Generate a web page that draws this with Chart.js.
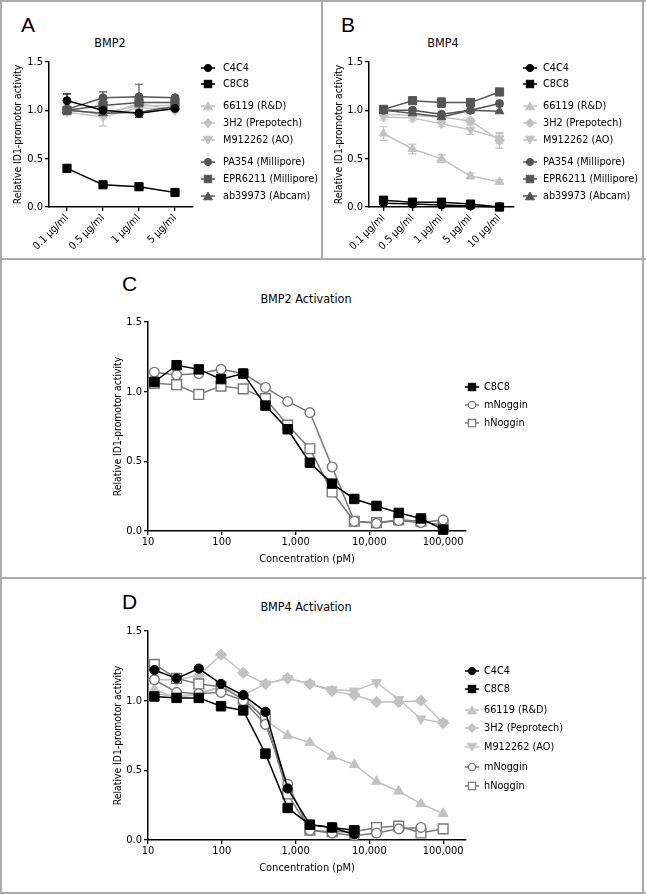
<!DOCTYPE html>
<html><head><meta charset="utf-8">
<script src="https://cdn.jsdelivr.net/npm/chart.js@4.4.1/dist/chart.umd.min.js"></script>
<style>
html,body{margin:0;padding:0;background:#fff;}
body{width:646px;height:894px;position:relative;overflow:hidden;font-family:"DejaVu Sans Condensed","DejaVu Sans",sans-serif;color:#000;}
.ln{position:absolute;background:#aaaaaa;}
canvas{position:absolute;}
.letter{position:absolute;font-family:"Liberation Sans",Arial,sans-serif;font-size:21px;line-height:20px;}
.title{position:absolute;font-size:12.5px;line-height:13px;transform:translate(-50%,-50%);white-space:nowrap;}
.legit{position:absolute;font-size:10.8px;line-height:13px;white-space:nowrap;}
svg{position:absolute;overflow:visible;}
</style></head>
<body>
<div class="ln" style="left:0;top:0;width:646px;height:1.5px"></div>
<div class="ln" style="left:0;top:0;width:2px;height:894px"></div>
<div class="ln" style="left:642px;top:0;width:2px;height:894px"></div>
<div class="ln" style="left:321px;top:0;width:2px;height:259px"></div>
<div class="ln" style="left:0;top:258px;width:646px;height:2px"></div>
<div class="ln" style="left:0;top:577px;width:646px;height:2px"></div>
<div class="ln" style="left:0;top:892px;width:646px;height:2px"></div>

<div class="letter" style="left:21px;top:15px">A</div>
<div class="letter" style="left:341px;top:15px">B</div>
<div class="letter" style="left:122px;top:274px">C</div>
<div class="letter" style="left:122px;top:592px">D</div>
<div class="title" style="left:110px;top:42px">BMP2</div>
<div class="title" style="left:443px;top:42px">BMP4</div>
<div class="title" style="left:306px;top:298px">BMP2 Activation</div>
<div class="title" style="left:306px;top:606px">BMP4 Activation</div>

<canvas id="cA" width="322" height="259" style="left:0;top:0"></canvas>
<canvas id="cB" width="322" height="259" style="left:322px;top:0"></canvas>
<canvas id="cC" width="640" height="314" style="left:0;top:262px"></canvas>
<canvas id="cD" width="640" height="314" style="left:0;top:580px"></canvas>
<div id="legs"></div>

<script>
// ---------- DATA ----------
const bmp2Labels = ['0.1 µg/ml', '0.5 µg/ml', '1 µg/ml', '5 µg/ml'];
const bmp4Labels = ['0.1 µg/ml', '0.5 µg/ml', '1 µg/ml', '5 µg/ml', '10 µg/ml'];
const yTicks = [0, 0.5, 1.0, 1.5];
const concTicks = [10, 100, 1000, 10000, 100000];
const doses = [12.2, 24.4, 48.8, 97.7, 195.3, 390.6, 781.3, 1562.5, 3125, 6250, 12500, 25000, 50000, 100000];

// Panel A (BMP2)
const aC4C4 = [1.10, 1.00, 0.97, 1.02];
const aC8C8 = [0.40, 0.23, 0.21, 0.15];
const a66119 = [1.00, 0.97, 1.05, 1.05];
const a3H2 = [1.02, 0.95, 1.07, 1.00];
const aM912262 = [0.98, 0.93, 1.03, 1.00];
const aPA354 = [1.01, 1.13, 1.14, 1.13];
const aEPR6211 = [1.00, 1.05, 1.08, 1.08];
const aAb39973 = [1.00, 0.97, 0.98, 1.04];
const aC4C4Err = [0.07, 0.02, 0.04, 0.02];
const aC8C8Err = [0.03, 0.01, 0.01, 0.01];
const a66119Err = [0.03, 0.04, 0.03, 0.07];
const aM912262Err = [0.03, 0.09, 0.03, 0.02];
const aPA354Err = [0.02, 0.06, 0.13, 0.02];

// Panel B (BMP4)
const bC4C4 = [0.04, 0.03, 0.02, 0.01, 0.00];
const bC8C8 = [0.07, 0.05, 0.05, 0.03, 0.00];
const b66119 = [0.76, 0.60, 0.50, 0.32, 0.26];
const b3H2 = [0.96, 0.95, 0.93, 0.89, 0.69];
const bM912262 = [0.93, 0.92, 0.86, 0.80, 0.71];
const bPA354 = [1.00, 1.00, 0.96, 1.00, 1.07];
const bEPR6211 = [1.01, 1.10, 1.08, 1.08, 1.19];
const bAb39973 = [1.00, 0.97, 0.93, 1.00, 0.99];
const b66119Err = [0.07, 0.05, 0.04, 0.03, 0.02];
const b3H2Err = [0.02, 0.02, 0.02, 0.03, 0.08];
const bM912262Err = [0.03, 0.03, 0.03, 0.05, 0.05];
const bEPR6211Err = [0.02, 0.02, 0.05, 0.02, 0.03];

// Panel C (BMP2 activation)
const cC8C8 = [1.07, 1.19, 1.16, 1.09, 1.13, 0.90, 0.73, 0.49, 0.34, 0.23, 0.18, 0.13, 0.09, 0.01];
const cMNoggin = [1.14, 1.12, 1.13, 1.16, 1.13, 1.03, 0.93, 0.85, 0.46, 0.07, 0.055, 0.075, 0.06, 0.08];
const cHNoggin = [1.06, 1.05, 0.98, 1.04, 1.02, 0.95, 0.76, 0.59, 0.28, 0.07, 0.06, 0.08, 0.07, 0.04];

// Panel D (BMP4 activation)
const dC4C4 = [1.22, 1.16, 1.23, 1.12, 1.04, 0.92, 0.37, 0.11, 0.09, 0.04, null, null, null, null];
const dC8C8 = [1.03, 1.02, 1.02, 0.96, 0.93, 0.62, 0.23, 0.11, 0.09, 0.07, null, null, null, null];
const d66119 = [1.08, 1.02, 1.05, 1.10, 1.04, 0.86, 0.75, 0.70, 0.60, 0.54, 0.42, 0.35, 0.26, 0.19];
const d3H2 = [1.15, 1.15, 1.18, 1.33, 1.20, 1.12, 1.16, 1.12, 1.07, 1.04, 0.99, 0.99, 1.00, 0.84];
const dM912262 = [1.05, 1.03, 1.05, 1.10, 1.04, 1.12, 1.16, 1.12, 1.08, 1.07, 1.13, 1.01, 0.87, 0.84];
const dMNoggin = [1.15, 1.06, 1.05, 1.06, 1.00, 0.83, 0.40, 0.07, 0.05, 0.03, 0.05, 0.08, 0.09, null];
const dHNoggin = [1.26, 1.16, 1.12, 1.10, 1.01, 0.87, 0.33, 0.07, 0.06, 0.06, 0.09, 0.10, 0.05, 0.08];

// ---------- STYLES ----------
const BLACK = '#000000', DARK = '#555555', LIGHT = '#c2c2c2', NOG = '#7a7a7a';
const ST = {
  C4C4:    {line: BLACK, fill: BLACK, shape: 'circle', r: 4},
  C8C8:    {line: BLACK, fill: BLACK, shape: 'rect', r: 5.8},
  R66119:  {line: LIGHT, fill: LIGHT, shape: 'triangle', r: 5},
  H3H2:    {line: LIGHT, fill: LIGHT, shape: 'rectRot', r: 5},
  M912262: {line: LIGHT, fill: LIGHT, shape: 'triangle', r: 5, rot: 180},
  PA354:   {line: DARK, fill: DARK, shape: 'circle', r: 4},
  EPR6211: {line: DARK, fill: DARK, shape: 'rect', r: 5.8},
  AB39973: {line: DARK, fill: DARK, shape: 'triangle', r: 5},
  mNoggin: {line: NOG, fill: '#ffffff', shape: 'circle', r: 4.2, open: true},
  hNoggin: {line: NOG, fill: '#ffffff', shape: 'rect', r: 6, open: true}
};

Chart.defaults.font.family = '"DejaVu Sans Condensed","DejaVu Sans",sans-serif';
Chart.defaults.font.size = 11;
Chart.defaults.color = '#000';

function ds(label, values, st, xs, errs, big) {
  const k = big ? 1.15 : 1;
  return {
    label,
    data: xs ? xs.map((x, i) => ({x, y: values[i]})) : values,
    borderColor: st.line, backgroundColor: st.fill,
    pointBorderColor: st.line, pointBackgroundColor: st.fill,
    pointStyle: st.shape, pointRotation: st.rot || 0,
    pointRadius: st.r * k, pointHoverRadius: st.r * k,
    pointBorderWidth: st.open ? 1.4 : 1,
    borderWidth: 1.5, tension: 0, clip: false, spanGaps: false,
    errors: errs || null
  };
}

const errPlugin = {
  id: 'errbars',
  beforeDatasetsDraw(chart) {
    const ctx = chart.ctx, ys = chart.scales.y;
    chart.data.datasets.forEach((d, i) => {
      if (!d.errors) return;
      const meta = chart.getDatasetMeta(i);
      ctx.save();
      ctx.strokeStyle = d.borderColor; ctx.lineWidth = 1.2;
      meta.data.forEach((pt, j) => {
        const e = d.errors[j]; const v = Array.isArray(d.data) ? d.data[j] : null;
        if (!e || v == null) return;
        const y1 = ys.getPixelForValue(v + e), y2 = ys.getPixelForValue(v - e);
        ctx.beginPath();
        ctx.moveTo(pt.x, y1); ctx.lineTo(pt.x, y2);
        ctx.moveTo(pt.x - 4, y1); ctx.lineTo(pt.x + 4, y1);
        ctx.moveTo(pt.x - 4, y2); ctx.lineTo(pt.x + 4, y2);
        ctx.stroke();
      });
      ctx.restore();
    });
  }
};

const axGrid = {display: true, drawOnChartArea: false, drawTicks: true, tickLength: 4, color: '#000', lineWidth: 1.3};
const axBorder = {display: true, color: '#000', width: 1.5};

function yAxis(width) {
  return {
    min: 0, max: 1.5,
    afterBuildTicks: s => { s.ticks = yTicks.map(v => ({value: v})); },
    ticks: {callback: v => Number(v).toFixed(1), font: {size: 11}, padding: 2, color: '#000'},
    grid: axGrid, border: axBorder,
    title: {display: true, text: 'Relative ID1-promotor activity', font: {size: 10.3}, padding: 0, color: '#000'},
    afterFit: s => { s.width = width; }
  };
}

function catChart(id, labels, datasets, pad, yW, xH) {
  return new Chart(document.getElementById(id), {
    type: 'line',
    data: {labels, datasets},
    plugins: [errPlugin],
    options: {
      responsive: false, animation: false, events: [],
      layout: {padding: pad},
      plugins: {legend: {display: false}, tooltip: {enabled: false}, title: {display: false}},
      scales: {
        x: {type: 'category', offset: true,
            grid: Object.assign({}, axGrid, {offset: false}), border: axBorder,
            ticks: {minRotation: 45, maxRotation: 45, autoSkip: false, font: {size: 10.5}, padding: 1, color: '#000'},
            afterFit: s => { s.height = xH; }},
        y: yAxis(yW)
      }
    }
  });
}

function logChart(id, datasets, pad, yW, xH, titlePadBottom) {
  return new Chart(document.getElementById(id), {
    type: 'line',
    data: {datasets},
    options: {
      responsive: false, animation: false, events: [],
      layout: {padding: pad},
      plugins: {legend: {display: false}, tooltip: {enabled: false}, title: {display: false}},
      scales: {
        x: {type: 'logarithmic', min: 10, max: 204000, bounds: 'data',
            afterBuildTicks: s => { s.ticks = concTicks.map(v => ({value: v})); },
            grid: axGrid, border: axBorder,
            ticks: {callback: v => Number(v).toLocaleString('en-US'), autoSkip: false, maxRotation: 0, minRotation: 0, font: {size: 11}, padding: 1, color: '#000'},
            title: {display: true, text: 'Concentration (pM)', font: {size: 11}, padding: {top: 0, bottom: titlePadBottom}, color: '#000'},
            afterFit: s => { s.height = xH; }},
        y: yAxis(yW)
      }
    }
  });
}

// Panel A
catChart('cA', bmp2Labels, [
  ds('C4C4', aC4C4, ST.C4C4, null, aC4C4Err),
  ds('C8C8', aC8C8, ST.C8C8, null, aC8C8Err),
  ds('PA354 (Millipore)', aPA354, ST.PA354, null, aPA354Err),
  ds('EPR6211 (Millipore)', aEPR6211, ST.EPR6211),
  ds('ab39973 (Abcam)', aAb39973, ST.AB39973),
  ds('66119 (R&D)', a66119, ST.R66119, null, a66119Err),
  ds('3H2 (Prepotech)', a3H2, ST.H3H2),
  ds('M912262 (AO)', aM912262, ST.M912262, null, aM912262Err)
], {left: 12, top: 62, right: 129, bottom: 0}, 37, 52);

// Panel B
catChart('cB', bmp4Labels, [
  ds('C4C4', bC4C4, ST.C4C4),
  ds('C8C8', bC8C8, ST.C8C8),
  ds('EPR6211 (Millipore)', bEPR6211, ST.EPR6211, null, bEPR6211Err),
  ds('PA354 (Millipore)', bPA354, ST.PA354),
  ds('ab39973 (Abcam)', bAb39973, ST.AB39973),
  ds('3H2 (Prepotech)', b3H2, ST.H3H2, null, b3H2Err),
  ds('M912262 (AO)', bM912262, ST.M912262, null, bM912262Err),
  ds('66119 (R&D)', b66119, ST.R66119, null, b66119Err)
], {left: 11, top: 62, right: 130, bottom: 0}, 36, 52);

// Panel C
logChart('cC', [
  ds('C8C8', cC8C8, ST.C8C8, doses, null, true),
  ds('mNoggin', cMNoggin, ST.mNoggin, doses, null, true),
  ds('hNoggin', cHNoggin, ST.hNoggin, doses, null, true)
], {left: 112, top: 60, right: 174, bottom: 0}, 36, 45, 10);

// Panel D
logChart('cD', [
  ds('C4C4', dC4C4, ST.C4C4, doses, null, true),
  ds('C8C8', dC8C8, ST.C8C8, doses, null, true),
  ds('mNoggin', dMNoggin, ST.mNoggin, doses, null, true),
  ds('hNoggin', dHNoggin, ST.hNoggin, doses, null, true),
  ds('66119 (R&D)', d66119, ST.R66119, doses, null, true),
  ds('3H2 (Peprotech)', d3H2, ST.H3H2, doses, null, true),
  ds('M912262 (AO)', dM912262, ST.M912262, doses, null, true)
], {left: 112, top: 51, right: 174, bottom: 0}, 36, 54, 19);

// ---------- LEGENDS (HTML) ----------
function markerSVG(st, cx, cy) {
  const c = st.line, f = st.fill, sw = st.open ? 1.2 : 1;
  let shape = '';
  if (st.shape === 'circle') shape = `<circle cx="8" cy="6" r="3.6" fill="${f}" stroke="${c}" stroke-width="${sw}"/>`;
  else if (st.shape === 'rect') shape = `<rect x="4.3" y="2.3" width="7.4" height="7.4" fill="${f}" stroke="${c}" stroke-width="${sw}"/>`;
  else if (st.shape === 'rectRot') shape = `<polygon points="8,1.5 12.5,6 8,10.5 3.5,6" fill="${f}" stroke="${c}" stroke-width="${sw}"/>`;
  else if (st.shape === 'triangle' && st.rot) shape = `<polygon points="3.5,2.2 12.5,2.2 8,10" fill="${f}" stroke="${c}" stroke-width="${sw}"/>`;
  else shape = `<polygon points="8,2 12.5,9.8 3.5,9.8" fill="${f}" stroke="${c}" stroke-width="${sw}"/>`;
  return `<svg width="16" height="12" style="left:${cx - 8}px;top:${cy - 6}px"><line x1="1" y1="6" x2="15" y2="6" stroke="${c}" stroke-width="1.5"/>${shape}</svg>`;
}
function legend(items, mx, tx) {
  let html = '';
  items.forEach(([label, st, y]) => {
    html += markerSVG(st, mx, y) + `<div class="legit" style="left:${tx}px;top:${y - 7}px">${label}</div>`;
  });
  document.getElementById('legs').insertAdjacentHTML('beforeend', html);
}
const legAB = (lab3H2) => [
  ['C4C4', ST.C4C4, 68], ['C8C8', ST.C8C8, 84],
  ['66119 (R&amp;D)', ST.R66119, 106], [lab3H2, ST.H3H2, 123], ['M912262 (AO)', ST.M912262, 140],
  ['PA354 (Millipore)', ST.PA354, 162], ['EPR6211 (Millipore)', ST.EPR6211, 179], ['ab39973 (Abcam)', ST.AB39973, 196]
];
legend(legAB('3H2 (Prepotech)'), 208, 223);
legend(legAB('3H2 (Prepotech)'), 530, 543);
legend([['C8C8', ST.C8C8, 387], ['mNoggin', ST.mNoggin, 405], ['hNoggin', ST.hNoggin, 423]], 472, 484);
legend([
  ['C4C4', ST.C4C4, 671], ['C8C8', ST.C8C8, 689],
  ['66119 (R&amp;D)', ST.R66119, 710], ['3H2 (Peprotech)', ST.H3H2, 728], ['M912262 (AO)', ST.M912262, 747],
  ['mNoggin', ST.mNoggin, 767], ['hNoggin', ST.hNoggin, 786]
], 472, 484);
</script>
</body></html>
